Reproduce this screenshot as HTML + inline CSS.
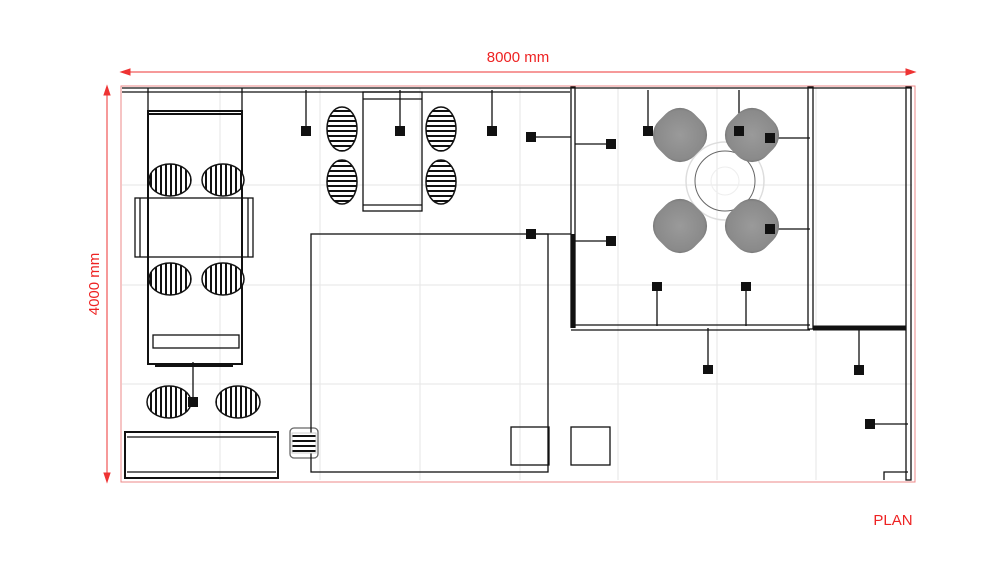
<!DOCTYPE html>
<html><head><style>body{margin:0;background:#fff}svg{display:block}</style></head><body>
<svg width="1000" height="563" viewBox="0 0 1000 563" xmlns="http://www.w3.org/2000/svg" font-family="Liberation Sans, sans-serif">
<defs>
<pattern id="vs" width="5" height="5" patternUnits="userSpaceOnUse"><rect width="5" height="5" fill="#fff"/><rect width="2" height="5" fill="#111"/></pattern>
<pattern id="hs" width="5" height="5" patternUnits="userSpaceOnUse"><rect width="5" height="5" fill="#fff"/><rect width="5" height="2" fill="#111"/></pattern>
<radialGradient id="cg" cx="0.5" cy="0.5" r="0.7"><stop offset="0" stop-color="#9a9a9a"/><stop offset="0.7" stop-color="#8a8a8a"/><stop offset="1" stop-color="#444"/></radialGradient>
</defs>
<g stroke="#e6e6e6" stroke-width="1">
<line x1="220" y1="88" x2="220" y2="480"/><line x1="320" y1="88" x2="320" y2="480"/><line x1="420" y1="88" x2="420" y2="480"/><line x1="520" y1="88" x2="520" y2="480"/><line x1="618" y1="88" x2="618" y2="480"/><line x1="717" y1="88" x2="717" y2="480"/><line x1="816" y1="88" x2="816" y2="480"/>
<line x1="122" y1="185" x2="912" y2="185"/><line x1="122" y1="285" x2="912" y2="285"/><line x1="122" y1="384" x2="912" y2="384"/>
</g>
<g stroke="#e33" fill="#e33">
<rect x="121" y="86" width="794" height="396" fill="none" stroke="#e88"/>
<line x1="124" y1="72" x2="912" y2="72" stroke-width="1"/>
<polygon points="121,72 130,69 130,75"/><polygon points="915,72 906,69 906,75"/>
<line x1="107" y1="89" x2="107" y2="479"/>
<polygon points="107,86 104,95 110,95"/><polygon points="107,482 104,473 110,473"/>
</g>
<text x="518" y="62" fill="#e22" font-size="15" text-anchor="middle">8000 mm</text>
<text transform="translate(99,284) rotate(-90)" fill="#e22" font-size="15" text-anchor="middle">4000 mm</text>
<text x="893" y="525" fill="#e22" font-size="15" text-anchor="middle">PLAN</text>
<g stroke="#111" fill="none" stroke-width="1.3">
<line x1="122" y1="88" x2="912" y2="88"/><line x1="122" y1="92" x2="570" y2="92"/>
<line x1="148" y1="88" x2="148" y2="112"/><line x1="242" y1="88" x2="242" y2="112"/>
<rect x="148" y="111" width="94" height="253" stroke-width="2"/>
<line x1="149" y1="114" x2="241" y2="114" stroke-width="2"/>
<rect x="135" y="198" width="118" height="59"/>
<line x1="140" y1="198" x2="140" y2="257"/><line x1="248" y1="198" x2="248" y2="257"/>
<rect x="153" y="335" width="86" height="13"/>
<line x1="155" y1="366" x2="233" y2="366" stroke-width="2"/>
<line x1="193" y1="362" x2="193" y2="402"/>
<rect x="125" y="432" width="153" height="46" stroke-width="2"/>
<line x1="127" y1="437" x2="276" y2="437"/><line x1="127" y1="472" x2="276" y2="472"/>
<rect x="290" y="428" width="28" height="30" rx="4" stroke="#666"/>
<rect x="363" y="92" width="59" height="119"/><line x1="363" y1="99" x2="422" y2="99"/><line x1="363" y1="205" x2="422" y2="205"/>
<line x1="306" y1="90" x2="306" y2="131"/><line x1="400" y1="90" x2="400" y2="131"/><line x1="492" y1="90" x2="492" y2="131"/>
<line x1="531" y1="137" x2="571" y2="137"/><line x1="531" y1="234" x2="571" y2="234"/>
<rect x="311" y="234" width="237" height="238"/>
<rect x="511" y="427" width="38" height="38"/><rect x="571" y="427" width="39" height="38"/>
<rect x="571" y="87" width="4" height="240"/>
<line x1="573" y1="234" x2="573" y2="328" stroke-width="5"/>
<line x1="571" y1="325" x2="810" y2="325"/><line x1="571" y1="330" x2="810" y2="330"/>
<rect x="808" y="87" width="5" height="242"/>
<rect x="906" y="87" width="5" height="393"/>
<line x1="813" y1="328" x2="906" y2="328" stroke-width="5"/>
<polyline points="884,480 884,472 908,472"/>
<line x1="575" y1="144" x2="611" y2="144"/><line x1="575" y1="241" x2="611" y2="241"/>
<line x1="648" y1="90" x2="648" y2="131"/><line x1="739" y1="90" x2="739" y2="131"/>
<line x1="770" y1="138" x2="810" y2="138"/><line x1="770" y1="229" x2="810" y2="229"/>
<line x1="657" y1="287" x2="657" y2="326"/><line x1="746" y1="287" x2="746" y2="326"/>
<line x1="708" y1="328" x2="708" y2="370"/><line x1="859" y1="330" x2="859" y2="370"/>
<line x1="870" y1="424" x2="908" y2="424"/>
</g>
<g stroke="#111" stroke-width="1.5" fill="url(#vs)">
<ellipse cx="170" cy="180" rx="21" ry="16"/><ellipse cx="223" cy="180" rx="21" ry="16"/>
<ellipse cx="170" cy="279" rx="21" ry="16"/><ellipse cx="223" cy="279" rx="21" ry="16"/>
<ellipse cx="169" cy="402" rx="22" ry="16"/><ellipse cx="238" cy="402" rx="22" ry="16"/>
</g>
<g stroke="#111" stroke-width="1.5" fill="url(#hs)">
<ellipse cx="342" cy="129" rx="15" ry="22"/><ellipse cx="441" cy="129" rx="15" ry="22"/>
<ellipse cx="342" cy="182" rx="15" ry="22"/><ellipse cx="441" cy="182" rx="15" ry="22"/>
</g>
<g stroke="#ccc" fill="url(#hs)"><rect x="292" y="433" width="24" height="20"/></g>
<circle cx="725" cy="181" r="39" fill="none" stroke="#ddd" stroke-width="1.5"/>
<circle cx="725" cy="181" r="30" fill="none" stroke="#666"/>
<circle cx="725" cy="181" r="14" fill="none" stroke="#eee"/>
<g fill="url(#cg)">
<rect x="655" y="110" width="50" height="50" rx="20" transform="rotate(45 680 135)"/>
<rect x="727" y="110" width="50" height="50" rx="20" transform="rotate(45 752 135)"/>
<rect x="655" y="201" width="50" height="50" rx="20" transform="rotate(45 680 226)"/>
<rect x="727" y="201" width="50" height="50" rx="20" transform="rotate(45 752 226)"/>
</g>
<g fill="#111">
<rect x="188" y="397" width="10" height="10"/>
<rect x="301" y="126" width="10" height="10"/><rect x="395" y="126" width="10" height="10"/><rect x="487" y="126" width="10" height="10"/>
<rect x="526" y="132" width="10" height="10"/><rect x="526" y="229" width="10" height="10"/>
<rect x="606" y="139" width="10" height="10"/><rect x="606" y="236" width="10" height="10"/>
<rect x="643" y="126" width="10" height="10"/><rect x="734" y="126" width="10" height="10"/>
<rect x="765" y="133" width="10" height="10"/><rect x="765" y="224" width="10" height="10"/>
<rect x="652" y="282" width="10" height="9"/><rect x="741" y="282" width="10" height="9"/>
<rect x="703" y="365" width="10" height="9"/><rect x="854" y="365" width="10" height="10"/>
<rect x="865" y="419" width="10" height="10"/>
</g>
</svg>
</body></html>
